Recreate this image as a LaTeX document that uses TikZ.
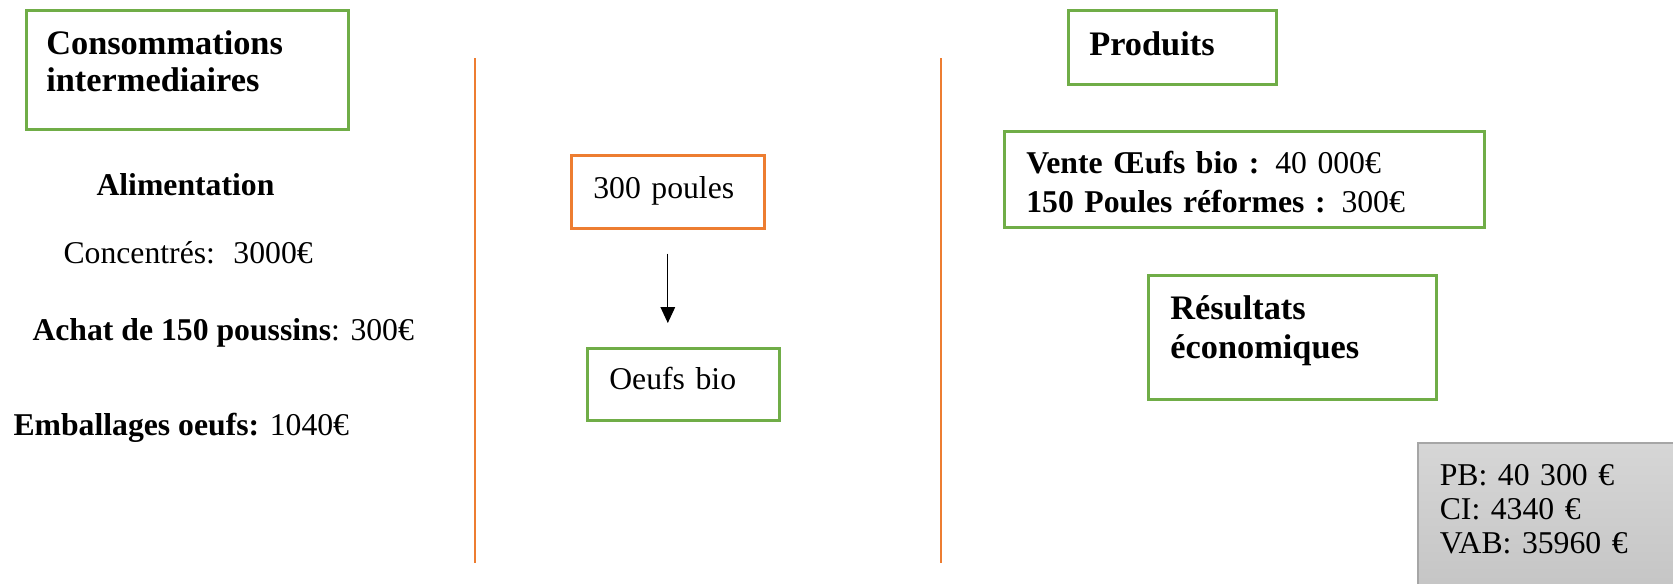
\documentclass[tikz,border=0pt]{standalone}
\usepackage{fontspec}
\setmainfont{Liberation Serif}
\usetikzlibrary{arrows.meta,positioning,calc}
\definecolor{cgreen}{RGB}{112,173,71}
\definecolor{corange}{RGB}{237,125,49}
\definecolor{cgrayline}{RGB}{166,166,166}
\newlength{\pxu}
\setlength{\pxu}{0.3785pt}
\tikzset{
  gbox/.style={draw=cgreen, line width=1pt, anchor=north west, inner ysep=0pt,
               inner xsep=22\pxu, align=left},
  obox/.style={gbox, draw=corange},
  sbox/.style={gbox, draw=cgrayline, line width=0.6pt, top color=black!16, bottom color=black!23},
  hd/.style={font=\fontsize{13}{14.8}\selectfont\bfseries},
  bd/.style={font=\fontsize{12}{14.8}\selectfont},
  txt/.style={anchor=base west, inner sep=0pt, font=\fontsize{12}{14.8}\selectfont},
  sepline/.style={corange, line width=0.5pt},
  flowarr/.style={-{Triangle[length=6pt, width=5.5pt]}, black, line width=0.4pt},
}

\begin{document}
\begin{tikzpicture}[x=\pxu, y=-\pxu]
  \useasboundingbox (0,0) rectangle (1673,583);
  \node[gbox, hd, inner xsep=20\pxu, text width=282\pxu, text height=44\pxu, text depth=75\pxu,
        font=\fontsize{13}{14}\selectfont\bfseries] (ciBox) at (25,9)
       {Consommations\\intermediaires};
  \node[txt, font=\fontsize{12}{14.8}\selectfont\bfseries] (alim) at (96,195) {Alimentation};
  \node[txt] (conc) at (63,263) {Concentrés:~ 3000€};
  \node[txt] (achat) at (32,340) {\textbf{Achat de 150 poussins}: 300€};
  \node[txt] (emb) at (13,435) {\textbf{Emballages oeufs:} 1040€};

  \draw[sepline] (475,58) -- (475,563);
  \draw[sepline] (941,58) -- (941,563);

  \node[obox, bd, text width=149\pxu, text height=43\pxu, text depth=30\pxu] (poulesBox) at (570,154) {300 poules};
  \node[gbox, bd, text width=148\pxu, text height=41\pxu, text depth=31\pxu] (oeufsBox) at (586,347) {Oeufs bio};
  \draw[flowarr, shorten <=24\pxu, shorten >=24\pxu] (poulesBox.south) -- (poulesBox.south |- oeufsBox.north);

  \node[gbox, hd, inner xsep=21\pxu, text width=166\pxu, text height=45\pxu, text depth=29\pxu] (prodBox) at (1067,9) {Produits};
  \node[gbox, bd, text width=436\pxu, text height=42\pxu, text depth=54\pxu] (venteBox) at (1003,130)
       {\textbf{Vente Œufs bio :} 40 000€\\\textbf{150 Poules réformes :} 300€};
  \node[gbox, hd, text width=244\pxu, text height=44\pxu, text depth=80\pxu] (resBox) at (1147,274)
       {Résultats\\économiques};
  \node[sbox, font=\fontsize{12}{12.9}\selectfont, text width=226\pxu, text height=43\pxu, text depth=110\pxu] (bilanBox) at (1417,442)
       {PB: 40 300 €\\CI: 4340 €\\VAB: 35960 €};
\end{tikzpicture}
\end{document}
